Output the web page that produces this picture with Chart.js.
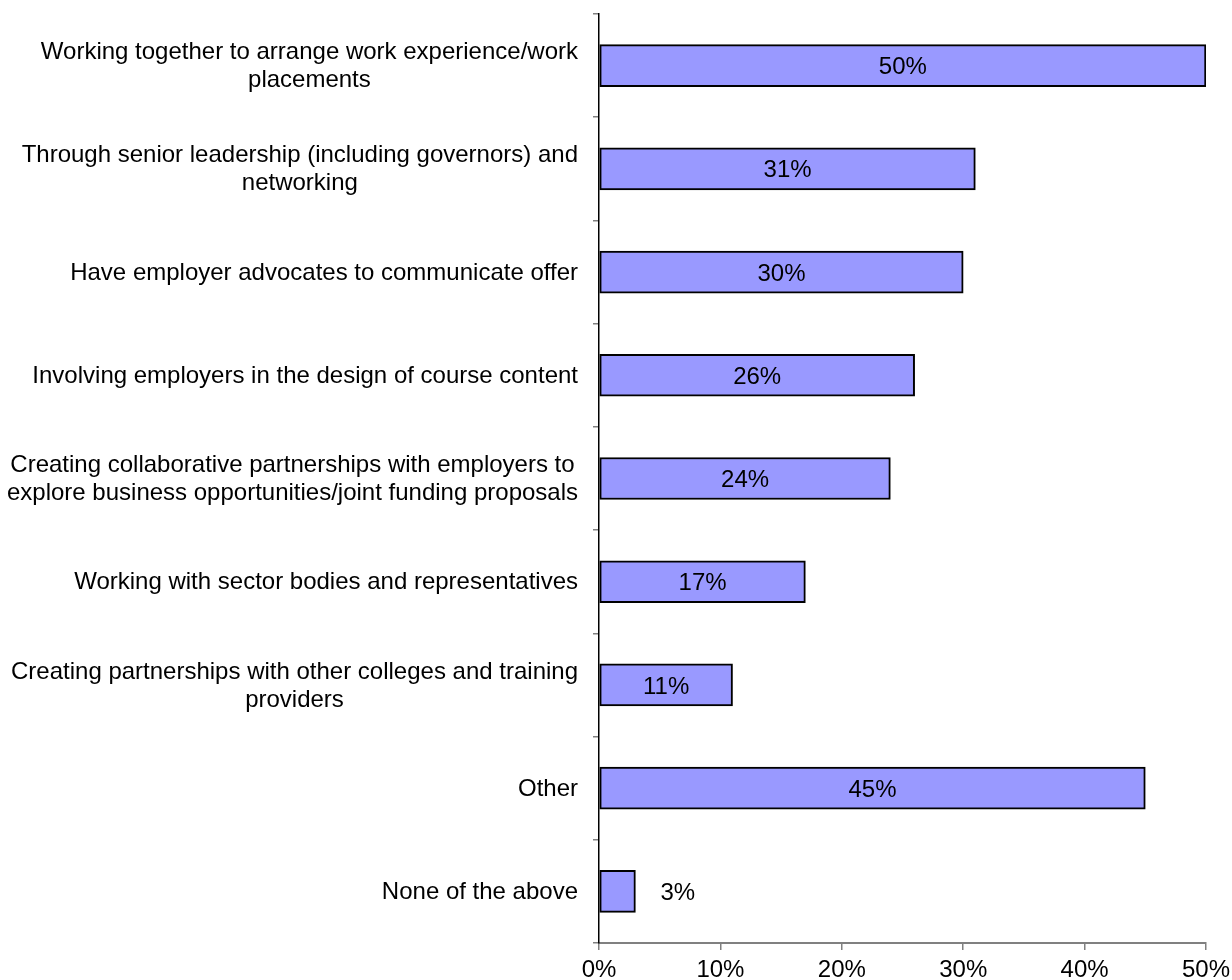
<!DOCTYPE html>
<html>
<head>
<meta charset="utf-8">
<script src="https://cdn.jsdelivr.net/npm/chart.js@4/dist/chart.umd.min.js"></script>
<style>
  body { margin: 0; background: #fff; }
  canvas { display: block; }
</style>
</head>
<body>
<canvas id="grafico" width="1232" height="980"></canvas>
<script>
// categorias (multi-linha quando o texto quebra)
const categorias = [
  ['Working together to arrange work experience/work', 'placements'],
  ['Through senior leadership (including governors) and', 'networking'],
  ['Have employer advocates to communicate offer'],
  ['Involving employers in the design of course content'],
  ['Creating collaborative partnerships with employers to', 'explore business opportunities/joint funding proposals'],
  ['Working with sector bodies and representatives'],
  ['Creating partnerships with other colleges and training', 'providers'],
  ['Other'],
  ['None of the above']
];
const percentuais = [50, 31, 30, 26, 24, 17, 11, 45, 3];
const ticksX = [0, 10, 20, 30, 40, 50];

const FONTE = '24px "Liberation Sans", Arial, sans-serif';

// rótulos das categorias: bloco alinhado à direita, linhas centradas no bloco
const rotulosCategorias = {
  id: 'rotulosCategorias',
  afterDraw(chart) {
    const ctx = chart.ctx;
    const escala = chart.scales.y;
    const direita = escala.right - 21;
    const alturaLinha = 28;
    ctx.save();
    ctx.font = FONTE;
    ctx.fillStyle = '#000';
    ctx.textAlign = 'center';
    ctx.textBaseline = 'middle';
    categorias.forEach((linhas, i) => {
      const yc = escala.getPixelForValue(i);
      const largura = Math.max(...linhas.map(l => ctx.measureText(l).width));
      const xc = direita - largura / 2;
      const y0 = yc - (linhas.length - 1) * alturaLinha / 2;
      linhas.forEach((l, j) => ctx.fillText(l, xc, y0 + j * alturaLinha + 1));
    });
    ctx.restore();
  }
};

// valores nas barras (fora da barra quando ela é curta demais)
const rotulosValores = {
  id: 'rotulosValores',
  afterDatasetsDraw(chart) {
    const ctx = chart.ctx;
    const meta = chart.getDatasetMeta(0);
    ctx.save();
    ctx.font = FONTE;
    ctx.fillStyle = '#000';
    ctx.textBaseline = 'middle';
    meta.data.forEach((barra, i) => {
      const texto = percentuais[i] + '%';
      const larguraTexto = ctx.measureText(texto).width;
      const larguraBarra = barra.x - barra.base;
      if (larguraBarra > larguraTexto + 12) {
        ctx.textAlign = 'center';
        ctx.fillText(texto, (barra.x + barra.base) / 2, barra.y + 2);
      } else {
        ctx.textAlign = 'left';
        ctx.fillText(texto, barra.x + 25, barra.y + 2);
      }
    });
    ctx.restore();
  }
};

new Chart(document.getElementById('grafico'), {
  type: 'bar',
  data: {
    labels: categorias,
    datasets: [{
      data: percentuais,
      backgroundColor: '#9999FF',
      borderColor: '#000',
      borderWidth: 2,
      borderSkipped: false,
      barThickness: 42
    }]
  },
  options: {
    indexAxis: 'y',
    responsive: false,
    animation: false,
    layout: { padding: { top: 14, right: 26, left: 0, bottom: 0 } },
    plugins: {
      legend: { display: false },
      tooltip: { enabled: false }
    },
    scales: {
      x: {
        min: 0,
        max: 50,
        afterBuildTicks: escala => { escala.ticks = ticksX.map(v => ({ value: v })); },
        afterFit: escala => {
          escala.height = 37;
          escala.paddingLeft = 0;
          escala.paddingRight = 0;
        },
        border: { color: '#808080', width: 2 },
        grid: { drawOnChartArea: false, color: '#808080', lineWidth: 1.5, tickLength: 7 },
        ticks: {
          color: '#000',
          font: { family: '"Liberation Sans", Arial, sans-serif', size: 24 },
          padding: 6,
          maxRotation: 0,
          callback: v => v + '%'
        }
      },
      y: {
        afterFit: escala => { escala.width = 599; },
        border: { color: '#000', width: 1.5 },
        grid: { offset: true, drawOnChartArea: false, color: '#808080', lineWidth: 1.5, tickLength: 6 },
        ticks: { display: false }
      }
    }
  },
  plugins: [rotulosCategorias, rotulosValores]
});
</script>
</body>
</html>
